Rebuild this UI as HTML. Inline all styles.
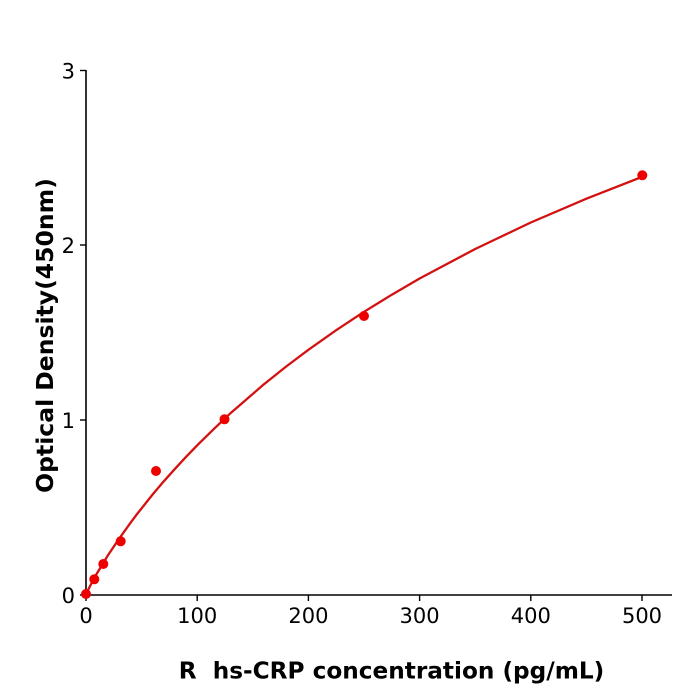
<!DOCTYPE html>
<html>
<head>
<meta charset="utf-8">
<style>
html,body{margin:0;padding:0;background:#fff;}
svg{display:block;}
text{font-family:"DejaVu Sans","Liberation Sans",sans-serif;fill:#000;}
</style>
</head>
<body>
<svg width="700" height="700" viewBox="0 0 700 700" xmlns="http://www.w3.org/2000/svg">
<rect width="700" height="700" fill="#fff"/>
<!-- axes -->
<line x1="86" y1="70" x2="86" y2="595" stroke="#000" stroke-width="1.6"/>
<line x1="85.2" y1="595" x2="672" y2="595" stroke="#000" stroke-width="1.6"/>
<!-- y ticks -->
<g stroke="#000" stroke-width="1.4">
<line x1="80" y1="595" x2="86" y2="595"/>
<line x1="80" y1="420" x2="86" y2="420"/>
<line x1="80" y1="245" x2="86" y2="245"/>
<line x1="80" y1="70.5" x2="86" y2="70.5"/>
</g>
<!-- x ticks -->
<g stroke="#000" stroke-width="1.4">
<line x1="86" y1="595" x2="86" y2="601"/>
<line x1="197.2" y1="595" x2="197.2" y2="601"/>
<line x1="308.4" y1="595" x2="308.4" y2="601"/>
<line x1="419.6" y1="595" x2="419.6" y2="601"/>
<line x1="530.8" y1="595" x2="530.8" y2="601"/>
<line x1="642" y1="595" x2="642" y2="601"/>
</g>
<!-- y tick labels -->
<g font-size="21" text-anchor="end">
<text x="75" y="603">0</text>
<text x="75" y="428">1</text>
<text x="75" y="253">2</text>
<text x="75" y="78.5">3</text>
</g>
<!-- x tick labels -->
<g font-size="21" text-anchor="middle">
<text x="86" y="623">0</text>
<text x="197.2" y="623">100</text>
<text x="308.4" y="623">200</text>
<text x="419.6" y="623">300</text>
<text x="530.8" y="623">400</text>
<text x="642" y="623">500</text>
</g>
<!-- curve -->
<polyline fill="none" stroke="#d41111" stroke-width="2.3" stroke-linejoin="round"
points="86,595 86.5,593.5 87,592 88.2,589.7 91.6,583.1 97.1,573.1 108.2,554.9 119.4,538.3 130.5,522.8 136.0,515.4 152.7,494.4 163.8,481.3 175.0,468.8 186.1,456.8 197.2,445.3 213.9,428.9 230.6,413.1 263.9,384.3 286.2,366.5 308.4,349.8 336.2,330.2 364,311.8 391.8,294.7 419.6,278.5 475.2,249.0 530.8,222.5 586.4,198.7 642,176.9"/>
<!-- points -->
<g fill="#ee0000">
<circle cx="86" cy="594" r="5"/>
<circle cx="94.3" cy="579.3" r="5"/>
<circle cx="103.3" cy="564" r="5"/>
<circle cx="120.7" cy="541.3" r="5"/>
<circle cx="156" cy="471" r="5"/>
<circle cx="224.5" cy="419.3" r="5"/>
<circle cx="364" cy="316" r="5"/>
<circle cx="642.3" cy="175.3" r="5"/>
</g>
<!-- axis labels -->
<text x="391.5" y="678.3" font-size="23.2" font-weight="bold" text-anchor="middle" xml:space="preserve">R  hs-CRP concentration (pg/mL)</text>
<text transform="translate(52.8,335.5) rotate(-90)" font-size="23.5" font-weight="bold" text-anchor="middle">Optical Density(450nm)</text>
</svg>
</body>
</html>
